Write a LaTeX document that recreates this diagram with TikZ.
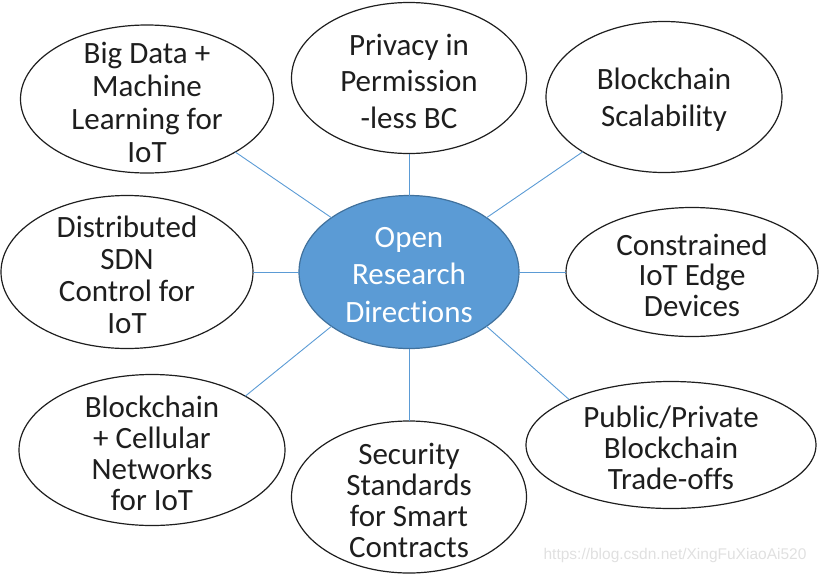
\documentclass[tikz,border=0pt]{standalone}
\usepackage{fontspec}
\setmainfont{Carlito}[Ligatures=NoCommon]
\newfontfamily\wmfont{Liberation Sans}
\usetikzlibrary{shapes.geometric}
\definecolor{ofblue}{HTML}{5B9BD5}
\definecolor{ofdark}{HTML}{41719C}
\definecolor{inkc}{HTML}{1E1E1E}
\begin{document}
\begin{tikzpicture}[x=1pt,y=-1pt,
  oval/.style={ellipse, draw=inkc, line width=1.2pt, fill=white, inner sep=0pt, outer sep=0pt},
  hub/.style={ellipse, draw=ofdark, line width=1.2pt, fill=ofblue, inner sep=0pt, outer sep=0pt},
  lbl/.style={align=center, font=\fontsize{31}{#1}\selectfont, text=inkc, inner sep=0pt, yshift=-3pt},
  lbl/.default=33,
  link/.style={draw=ofblue, line width=0.9pt}]
\useasboundingbox (0,0) rectangle (820,574);
% ellipses
\node[hub, minimum width=220pt, minimum height=153pt] (c) at (409,272) {};
\node[oval, minimum width=253pt, minimum height=148pt] (bd) at (147,99) {};
\node[oval, minimum width=235pt, minimum height=151pt] (pv) at (409,78) {};
\node[oval, minimum width=236pt, minimum height=151pt] (sc) at (664,97) {};
\node[oval, minimum width=252pt, minimum height=153pt] (ds) at (127,272) {};
\node[oval, minimum width=252pt, minimum height=129pt] (ci) at (692,272) {};
\node[oval, minimum width=266pt, minimum height=151pt] (cl) at (152,450) {};
\node[oval, minimum width=235pt, minimum height=152pt] (ss) at (409,497) {};
\node[oval, minimum width=290pt, minimum height=127pt] (pp) at (671,445) {};
% connectors
\draw[link] (c.145) -- (bd.-31);
\draw[link] (c.north) -- (pv.south);
\draw[link] (c.35) -- (sc.214);
\draw[link] (c.west) -- (ds.east);
\draw[link] (c.east) -- (ci.west);
\draw[link] (c.215) -- (cl.30);
\draw[link] (c.south) -- (ss.north);
\draw[link] (c.-35) -- (pp.156);
% texts
\node[lbl=37.5, text=white] (ct) at (c) {Open\\Research\\Directions};
\node[lbl=33] (bdt) at (bd) {Big Data +\\Machine\\Learning for\\IoT};
\node[lbl=36.5] (pvt) at (pv) {Privacy in\\Permission\\-less BC};
\node[lbl=37] (sct) at (sc) {Blockchain\\Scalability};
\node[lbl=32] (dst) at (ds) {Distributed\\SDN\\Control for\\IoT};
\node[lbl=30.5] (cit) at (ci) {Constrained\\IoT Edge\\Devices};
\node[lbl=31] (clt) at (cl) {Blockchain\\+ Cellular\\Networks\\for IoT};
\node[lbl=31] (sst) at (ss) {Security\\Standards\\for Smart\\Contracts};
\node[lbl=31] (ppt) at (pp) {Public/Private\\Blockchain\\Trade-offs};
% watermark
\node[font=\wmfont\fontsize{15.5}{15.5}\selectfont, text=black!12, inner sep=0pt] (wm) at (675,555) {https://blog.csdn.net/XingFuXiaoAi520};
\end{tikzpicture}
\end{document}
